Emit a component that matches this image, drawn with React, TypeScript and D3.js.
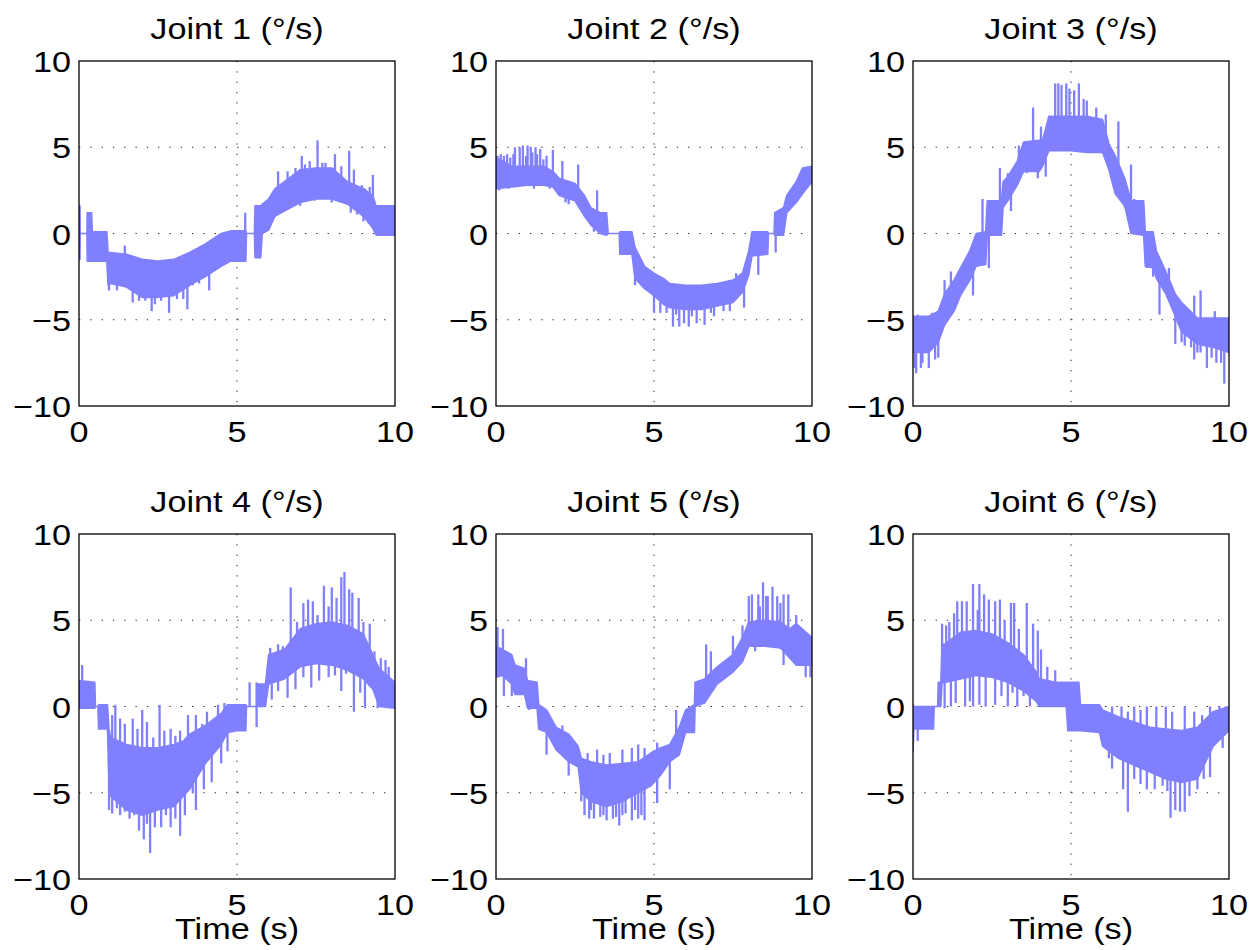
import React from "react";
import * as d3 from "d3";

// ---------- data (time in s, velocity in deg/s) ----------
const xTicks = [0, 5, 10];
const yTicks = [-10, -5, 0, 5, 10];
const titles = ["Joint 1 (°/s)", "Joint 2 (°/s)", "Joint 3 (°/s)", "Joint 4 (°/s)", "Joint 5 (°/s)", "Joint 6 (°/s)"];

// Joint 1: band envelope + spikes
const j1T = [0, 0.03, 0.04, 0.25, 0.26, 0.40, 0.42, 0.88, 0.92, 1.0, 1.5, 2.0, 2.5, 3.0, 3.5, 4.0, 4.5, 4.8, 5.28, 5.30, 5.55, 5.57, 5.75, 5.8, 6.0, 6.2, 6.5, 7.0, 7.5, 8.0, 8.5, 9.0, 9.3, 9.4, 10];
const j1Hi = [1.6, 1.6, 0, 0, 1.2, 1.2, 0.1, 0.1, -1.1, -1.1, -1.2, -1.5, -1.6, -1.5, -1.1, -0.6, 0.0, 0.15, 0.15, 0, 0, 1.6, 1.6, 1.7, 2.0, 2.6, 3.0, 3.7, 3.8, 3.8, 3.0, 2.6, 2.2, 1.6, 1.6];
const j1Lo = [-1.5, -1.5, 0, 0, -1.6, -1.6, -1.6, -1.6, -3.0, -2.9, -3.1, -3.7, -3.7, -3.6, -3.0, -2.5, -1.9, -1.6, -1.6, 0, 0, -1.4, -1.4, 0.0, 0.2, 1.0, 1.3, 1.8, 2.0, 2.0, 1.7, 1.0, 0.3, -0.1, -0.1];
const j1Spikes = [[0.95, -3.3], [1.45, -0.7], [1.7, -4.0], [2.1, -3.9], [2.3, -4.5], [2.6, -3.9], [2.85, -4.6], [3.1, -3.8], [3.43, -4.4], [4.12, -3.3], [4.3, -0.3], [5.26, 1.2], [6.6, 3.6], [6.85, 3.8], [7.05, 4.5], [7.3, 4.2], [7.55, 5.4], [7.8, 4.1], [8.1, 4.6], [8.55, 4.8], [9.05, 2.6], [9.3, 3.4],
  [1.2, -3.3], [1.9, -3.9], [2.4, -4.1], [3.3, -3.8], [3.6, -3.0], [3.8, -2.9], [6.3, 3.6], [6.7, 3.0], [7.15, 4.0], [7.7, 4.1], [8.3, 3.9], [8.7, 3.7], [8.95, 2.8], [9.2, 2.7], [7.0, 1.6], [7.45, 1.9], [8.0, 1.8], [8.6, 1.2], [8.8, 1.1], [9.0, 0.7], [9.2, 0.6]];

// Joint 2
const j2T = [0, 0.5, 1.0, 1.5, 1.8, 2.0, 2.5, 2.8, 3.0, 3.3, 3.5, 3.55, 3.9, 3.92, 4.3, 4.4, 4.7, 5.0, 5.3, 5.5, 6.0, 6.5, 7.0, 7.5, 7.8, 8.0, 8.1, 8.6, 8.62, 8.8, 8.82, 9.1, 9.2, 9.5, 9.7, 10];
const j2Hi = [4.4, 3.9, 3.9, 3.9, 3.6, 3.2, 2.9, 2.2, 1.5, 1.2, 1.2, 0, 0, 0.1, 0.1, -0.8, -1.9, -2.3, -2.6, -2.9, -3.0, -3.0, -2.9, -2.7, -2.3, -1.0, 0.1, 0.1, 0, 0, 1.2, 1.5, 2.2, 3.0, 3.8, 3.9];
const j2Lo = [2.6, 2.7, 2.8, 2.8, 2.7, 2.2, 1.9, 1.0, 0.5, 0.0, -0.1, 0, 0, -1.2, -1.2, -2.6, -3.2, -3.6, -4.1, -4.3, -4.4, -4.4, -4.2, -4.0, -3.4, -2.4, -1.3, -1.2, 0, 0, -0.1, -0.1, 1.2, 1.8, 2.3, 3.0];
const j2Spikes = [[0.15, 4.6], [0.35, 4.6], [0.6, 5.0], [0.75, 5.0], [0.85, 5.1], [1.0, 5.1], [1.1, 5.0], [1.25, 5.0], [1.4, 4.9], [1.8, 4.85], [2.1, 4.2], [2.6, 4.0], [3.2, 2.5], [3.1, 0.1], [4.4, -3.0], [5.0, -4.6], [5.2, -4.6], [5.6, -5.4], [5.8, -5.4], [5.95, -5.2], [6.1, -5.4], [6.35, -5.2], [6.6, -5.3], [6.9, -4.8], [7.4, -4.5], [7.85, -4.3], [8.3, -2.4], [8.85, -1.1], [7.6, -2.3],
  [0.05, 4.5], [0.25, 4.5], [0.45, 4.4], [0.55, 4.6], [0.95, 4.5], [1.15, 4.7], [1.3, 4.6], [1.5, 4.3], [1.6, 4.5], [0.1, 2.5], [0.4, 2.6], [1.2, 2.6], [1.7, 2.6], [2.3, 1.7], [2.2, 1.8], [5.4, -4.6], [5.7, -4.7], [6.2, -4.8], [6.8, -4.6], [7.2, -4.5]];

// Joint 3
const j3T = [0, 0.5, 0.8, 1.0, 1.3, 1.5, 1.8, 2.0, 2.3, 2.35, 2.8, 2.85, 3.0, 3.3, 3.5, 4.0, 4.1, 4.3, 5.0, 5.5, 6.0, 6.2, 6.4, 6.7, 6.9, 7.3, 7.35, 7.6, 7.7, 8.0, 8.3, 8.5, 9.0, 9.5, 10];
const j3Hi = [-4.8, -4.8, -4.5, -3.5, -2.7, -2.0, -1.0, 0.0, 0.1, 1.9, 1.9, 3.0, 3.3, 4.2, 5.3, 5.4, 5.4, 6.8, 6.8, 6.8, 6.6, 5.2, 4.5, 3.2, 1.9, 1.9, 0.1, 0.1, -1.0, -2.2, -3.5, -4.0, -4.9, -4.9, -4.9];
const j3Lo = [-6.9, -6.9, -6.3, -5.3, -4.5, -3.6, -2.7, -1.9, -1.8, -0.1, -0.1, 1.5, 1.9, 2.8, 3.6, 3.6, 3.9, 4.8, 4.8, 4.7, 4.7, 3.7, 2.3, 1.6, 0.0, -0.1, -1.9, -2.0, -2.6, -3.5, -4.8, -5.7, -6.4, -6.6, -6.9];
const j3Spikes = [[0.1, -8.1], [0.05, -7.8], [0.25, -7.8], [0.5, -7.8], [0.8, -7.2], [1.0, -2.7], [1.2, -2.2], [1.9, -3.6], [2.2, 2.0], [2.4, -2.0], [2.75, 3.8], [3.35, 5.1], [3.8, 7.3], [3.95, 3.2], [4.05, 6.2], [4.5, 8.7], [4.6, 8.7], [4.7, 8.6], [4.85, 8.7], [4.95, 8.4], [5.25, 8.7], [5.5, 7.7], [5.8, 7.3], [6.5, 6.5], [6.9, 4.0], [7.4, -2.0], [7.8, -4.7], [8.3, -6.4], [8.6, -6.5], [8.9, -7.3], [9.1, -6.9], [9.3, -7.8], [9.6, -7.5], [9.85, -8.7], [8.9, -3.6], [9.1, -3.3], [9.55, -4.5],
  [3.0, 3.5], [3.1, 1.3], [3.6, 3.5], [4.2, 3.3], [5.1, 8.3], [5.4, 7.8], [6.1, 6.9], [6.25, 4.8], [6.7, 1.5], [7.0, 2.0], [7.6, -2.5], [8.1, -2.0], [8.5, -6.3], [8.8, -6.6], [9.0, -6.9], [9.45, -7.2], [9.75, -7.5], [0.3, -7.5], [0.7, -7.3], [0.15, -4.7], [0.6, -4.6]];

// Joint 4
const j4T = [0, 0.5, 0.52, 0.6, 0.62, 0.9, 0.95, 1.0, 1.5, 2.0, 2.5, 3.0, 3.3, 3.5, 4.0, 4.5, 4.7, 5.0, 5.28, 5.3, 5.63, 5.65, 5.9, 6.0, 6.5, 7.0, 7.5, 8.0, 8.5, 9.0, 9.3, 9.5, 10];
const j4Hi = [1.5, 1.4, 0, 0, 0.1, 0.1, -1.3, -1.8, -2.2, -2.4, -2.4, -2.2, -2.0, -1.6, -1.1, -0.4, 0.1, 0.1, 0.1, 0, 0, 1.3, 1.3, 3.0, 3.3, 4.5, 4.8, 4.9, 4.7, 4.2, 3.0, 2.2, 1.4];
const j4Lo = [-0.1, -0.1, 0, 0, -1.3, -1.3, -4.5, -5.2, -6.0, -6.3, -6.0, -5.8, -5.2, -4.8, -3.3, -2.2, -1.5, -1.4, -1.4, 0, 0, 0, 0, 1.3, 1.6, 2.3, 2.5, 2.4, 2.1, 1.6, 1.0, 0.0, -0.1];
const j4Spikes = [[0.1, 2.4], [1.05, -0.5], [1.15, 0.1], [1.3, -0.7], [1.45, -1.0], [1.7, -0.7], [1.85, -1.3], [2.0, -0.2], [2.15, -0.9], [2.35, -1.8], [2.55, 0.1], [2.7, -1.4], [2.9, -1.3], [3.05, -1.7], [3.2, -1.4], [3.45, -0.5], [3.7, -0.5], [3.9, -1.0], [4.05, -0.3], [4.25, -0.8], [4.4, 0.1], [4.6, 0.2], [5.4, 1.4], [5.62, 1.4], [6.05, 3.4], [6.3, 3.6], [6.45, 3.5], [6.7, 6.9], [6.9, 4.9], [7.1, 6.0], [7.25, 6.2], [7.4, 6.1], [7.55, 5.3], [7.75, 7.0], [7.9, 5.8], [8.0, 6.9], [8.15, 6.3], [8.3, 7.5], [8.4, 7.8], [8.55, 6.8], [8.65, 6.6], [8.85, 6.3], [9.0, 4.9], [9.2, 4.8], [9.35, 3.2], [9.55, 2.8], [9.7, 2.7], [9.8, 2.3],
  [0.95, -6.0], [1.05, -6.2], [1.2, -5.9], [1.3, -6.3], [1.45, -6.1], [1.6, -6.5], [1.75, -6.3], [1.9, -7.2], [2.05, -7.7], [2.15, -6.8], [2.25, -8.5], [2.4, -7.0], [2.6, -7.0], [2.75, -6.3], [2.9, -7.0], [3.05, -6.5], [3.2, -7.5], [3.35, -6.3], [3.6, -5.0], [3.7, -6.0], [3.95, -4.8], [4.2, -4.4], [4.5, -3.3], [4.7, -2.6], [5.62, -1.2], [6.1, 0.4], [6.3, 0.9], [6.6, 0.5], [6.85, 1.0], [7.1, 1.7], [7.35, 1.1], [7.6, 1.5], [7.9, 1.7], [8.1, 1.8], [8.3, 0.9], [8.45, 1.9], [8.7, -0.3], [8.9, 0.8], [9.05, -0.1], [9.25, 1.2], [9.45, -0.1], [9.6, 0.0], [9.85, -0.1]];

// Joint 5
const j5T = [0, 0.2, 0.5, 0.6, 0.9, 1.0, 1.3, 1.35, 1.6, 1.9, 2.3, 2.6, 2.7, 3.0, 3.5, 4.0, 4.5, 4.9, 5.2, 5.5, 5.8, 6.0, 6.28, 6.3, 6.6, 7.0, 7.5, 7.8, 8.0, 8.5, 9.0, 9.3, 9.5, 10];
const j5Hi = [3.5, 3.3, 3.0, 2.4, 2.2, 1.5, 1.4, 0.1, -0.2, -1.2, -1.6, -2.3, -3.0, -3.2, -3.4, -3.3, -3.2, -2.7, -2.4, -2.2, -1.2, -0.2, 0.1, 1.4, 1.6, 2.3, 3.0, 4.0, 4.9, 5.0, 4.9, 4.5, 4.8, 4.0];
const j5Lo = [1.7, 1.8, 1.3, 0.7, 0.7, -0.1, -0.1, -1.3, -1.5, -2.5, -3.2, -3.5, -5.0, -5.5, -5.8, -5.5, -5.0, -4.6, -4.0, -3.2, -2.8, -1.5, -1.5, 0.0, 0.2, 1.3, 2.0, 2.6, 3.5, 3.5, 3.4, 2.8, 2.4, 2.4];
const j5Spikes = [[0.05, 4.6], [0.22, 4.5], [0.25, 0.6], [0.5, 0.6], [0.95, 2.8], [1.05, -0.2], [1.6, -2.8], [2.1, -1.1], [2.3, -4.0], [2.7, -5.5], [2.95, -6.5], [3.1, -6.5], [3.3, -6.4], [3.5, -6.6], [3.7, -6.5], [3.9, -6.9], [4.1, -6.2], [4.3, -6.6], [4.5, -6.5], [4.7, -6.6], [5.1, -5.6], [3.2, -2.5], [3.6, -2.7], [4.3, -2.4], [4.7, -2.4], [5.1, -2.1], [5.5, -4.8], [5.7, -0.2], [6.65, 3.6], [6.8, 3.2], [7.5, 4.1], [7.8, 4.7], [8.1, 6.5], [8.3, 6.5], [8.45, 7.2], [8.6, 6.4], [8.75, 6.95], [8.9, 6.4], [9.1, 6.5], [9.5, 5.3], [8.2, 3.2], [9.1, 2.4], [9.8, 1.7], [9.95, 1.7],
  [2.8, -6.3], [3.0, -6.0], [3.4, -6.3], [3.8, -6.4], [4.0, -6.3], [4.4, -6.0], [4.6, -6.3], [2.9, -2.7], [3.4, -2.8], [4.0, -2.5], [4.5, -2.2], [8.0, 6.4], [8.35, 5.8], [8.55, 6.4], [9.0, 6.0], [9.25, 6.5]];

// Joint 6
const j6T = [0, 0.03, 0.05, 0.65, 0.67, 0.78, 0.8, 0.88, 0.92, 1.0, 1.5, 2.0, 2.5, 3.0, 3.5, 3.9, 4.0, 4.5, 4.85, 4.9, 5.25, 5.3, 5.9, 6.0, 6.5, 7.0, 7.5, 8.0, 8.5, 9.0, 9.5, 10];
const j6Hi = [0.1, 0.0, 0.0, 0.0, 0, 0, 1.4, 1.4, 3.6, 3.6, 4.3, 4.4, 4.2, 3.7, 3.0, 2.0, 1.6, 1.4, 1.4, 1.4, 1.4, 0.1, 0.1, -0.2, -0.6, -0.9, -1.2, -1.3, -1.4, -1.2, -0.3, 0.0];
const j6Lo = [-2.6, -1.3, -1.3, -1.3, 0, 0, 0.0, 0.0, 1.4, 1.4, 1.6, 1.8, 1.7, 1.4, 0.9, 0.3, 0.0, 0.0, 0.0, -1.4, -1.4, -1.4, -1.5, -2.3, -3.0, -3.4, -3.8, -4.2, -4.4, -4.2, -2.3, -1.4];
const j6Spikes = [[0.92, 4.8], [1.05, 4.7], [1.15, 4.9], [1.3, 5.4], [1.4, 6.1], [1.55, 6.1], [1.7, 6.1], [1.9, 7.1], [2.05, 5.6], [2.1, 7.1], [2.25, 6.5], [2.4, 6.2], [2.6, 6.1], [2.75, 6.2], [2.9, 5.0], [3.1, 6.0], [3.2, 6.0], [3.35, 4.5], [3.6, 6.0], [3.8, 4.8], [3.95, 4.4], [4.05, 3.3], [4.25, 2.3], [4.5, 2.1],
  [1.0, -0.1], [1.2, 0.0], [1.35, 0.2], [1.65, 0.0], [1.8, 0.3], [1.9, 0.0], [2.1, 0.1], [2.3, 0.0], [2.6, 0.1], [2.8, 0.6], [3.0, 0.0], [3.15, 0.8], [3.3, 0.0], [3.5, 0.6], [3.7, 0.0],
  [6.3, 0.0], [6.6, 0.0], [6.8, -0.3], [7.0, 0.0], [7.2, -0.2], [7.4, 0.0], [7.7, 0.0], [8.0, 0.0], [8.2, -0.3], [8.6, 0.0], [8.9, -0.3], [9.15, -0.5], [9.4, 0.0], [9.7, 0.0], [9.9, 0.0],
  [0.15, -2.0], [6.2, -3.0], [6.3, -3.6], [6.65, -4.8], [6.8, -6.1], [7.0, -4.2], [7.2, -4.5], [7.4, -4.8], [7.65, -4.8], [7.9, -4.6], [8.05, -4.9], [8.15, -6.45], [8.3, -6.0], [8.45, -6.1], [8.6, -6.1], [8.75, -5.2], [9.0, -4.8], [9.2, -4.2], [9.4, -4.1], [9.8, -2.4]];

const joints = [
  { t: j1T, hi: j1Hi, lo: j1Lo, spikes: j1Spikes },
  { t: j2T, hi: j2Hi, lo: j2Lo, spikes: j2Spikes },
  { t: j3T, hi: j3Hi, lo: j3Lo, spikes: j3Spikes },
  { t: j4T, hi: j4Hi, lo: j4Lo, spikes: j4Spikes },
  { t: j5T, hi: j5Hi, lo: j5Lo, spikes: j5Spikes },
  { t: j6T, hi: j6Hi, lo: j6Lo, spikes: j6Spikes },
];

// ---------- layout ----------
const W = 1253, H = 950;
const panelLefts = [79, 496, 913];
const panelTops = [61, 534];
const PW = 316, PH = 345;
const COLOR = "#8080ff";
const FONT = "'Liberation Sans', Arial, Helvetica, sans-serif";
const FS = 30;
const SX = 1.14;

const fmt = (v: number) => (v < 0 ? "\u2212" + Math.abs(v) : String(v));

function Txt({ x, y, anchor, children }: { x: number; y: number; anchor: string; children: React.ReactNode }) {
  return (
    <text transform={`translate(${x},${y}) scale(${SX},1)`} textAnchor={anchor} fontFamily={FONT} fontSize={FS} fill="#000">
      {children}
    </text>
  );
}

function Panel({ idx }: { idx: number }) {
  const col = idx % 3, row = Math.floor(idx / 3);
  const left = panelLefts[col], top = panelTops[row];
  const x = d3.scaleLinear().domain([0, 10]).range([left, left + PW]);
  const y = d3.scaleLinear().domain([-10, 10]).range([top + PH, top]);
  const j = joints[idx];
  const pts = j.t.map((t, i) => ({ t, hi: j.hi[i], lo: j.lo[i] }));
  const area = d3.area<any>().x((d) => x(d.t)).y0((d) => y(d.lo)).y1((d) => y(d.hi));
  const mid = d3.scaleLinear().domain(j.t).range(j.t.map((_, i) => (j.hi[i] + j.lo[i]) / 2));
  const clipId = `clip${idx}`;
  return (
    <g>
      <defs>
        <clipPath id={clipId}>
          <rect x={left} y={top} width={PW} height={PH} />
        </clipPath>
      </defs>
      {[-5, 0, 5].map((v) => (
        <line key={"gy" + v} x1={left} x2={left + PW} y1={y(v)} y2={y(v)} stroke="#222" strokeWidth={1} strokeDasharray="1.3,10" />
      ))}
      <line x1={x(5)} x2={x(5)} y1={top} y2={top + PH} stroke="#222" strokeWidth={1} strokeDasharray="1.3,9" />
      <g clipPath={`url(#${clipId})`}>
        <path d={area(pts) || ""} fill={COLOR} stroke={COLOR} strokeWidth={1.6} strokeLinejoin="round" />
        {j.spikes.map(([t, v], i) => (
          <line key={i} x1={x(t)} x2={x(t)} y1={y(mid(t))} y2={y(v)} stroke={COLOR} strokeWidth={2.3} />
        ))}
      </g>
      <rect x={left} y={top} width={PW} height={PH} fill="none" stroke="#000" strokeWidth={1.3} />
      {yTicks.map((v) => (
        <Txt key={"yl" + v} x={left - 8} y={y(v) + 11} anchor="end">{fmt(v)}</Txt>
      ))}
      {xTicks.map((v) => (
        <Txt key={"xl" + v} x={x(v)} y={top + PH + 36} anchor="middle">{fmt(v)}</Txt>
      ))}
      <Txt x={left + PW / 2} y={top - 22} anchor="middle">{titles[idx]}</Txt>
      {row === 1 && <Txt x={left + PW / 2} y={top + PH + 60} anchor="middle">Time (s)</Txt>}
    </g>
  );
}

export default function App() {
  return (
    <svg width={W} height={H} style={{ position: "absolute", left: 0, top: 0, background: "#fff", display: "block" }}>
      <rect x={0} y={0} width={W} height={H} fill="#fff" />
      {joints.map((_, i) => (
        <Panel key={i} idx={i} />
      ))}
    </svg>
  );
}
